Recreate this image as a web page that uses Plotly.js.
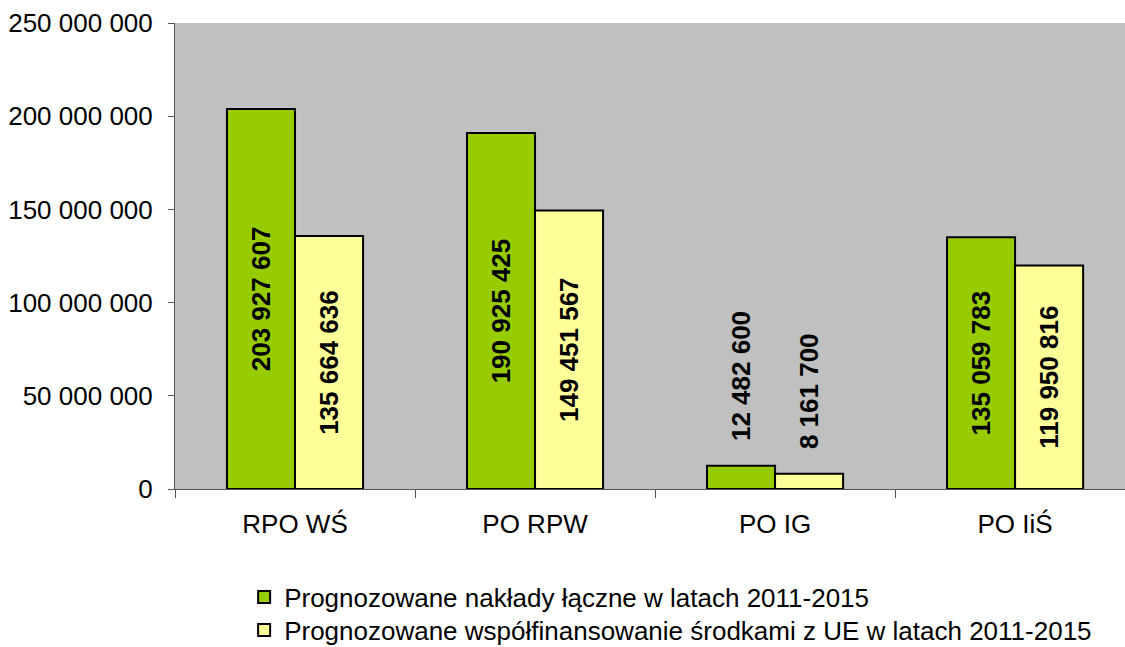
<!DOCTYPE html>
<html>
<head>
<meta charset="utf-8">
<script src="https://cdn.plot.ly/plotly-3.0.1.min.js"></script>
<style>html,body{margin:0;padding:0;background:#fff;}#chart{width:1125px;height:647px;}</style>
</head>
<body>
<div id="chart"></div>
<script>
const categories = ["RPO WŚ", "PO RPW", "PO IG", "PO IiŚ"];
const seriesNames = ["Prognozowane nakłady łączne w latach 2011-2015",
                     "Prognozowane współfinansowanie środkami z UE w latach 2011-2015"];
const totalValues = [203927607, 190925425, 12482600, 135059783];
const euValues = [135664636, 149451567, 8161700, 119950816];
const yTickValues = [0, 50000000, 100000000, 150000000, 200000000, 250000000];

function fmt(v) { return String(v).replace(/\B(?=(\d{3})+(?!\d))/g, " "); }
function positions(vals) { return vals.map(v => v < 50000000 ? "outside" : "inside"); }
function labels(vals) { return vals.map(v => (v < 50000000 ? "\u00a0\u00a0\u00a0" : "") + fmt(v)); }

const FONT = "Liberation Sans, Arial, sans-serif";

const common = {
  type: "bar",
  x: categories,
  textangle: -90,
  insidetextanchor: "middle",
  constraintext: "none",
  cliponaxis: false,
  textfont: {family: FONT, size: 26, color: "#000", weight: "bold"},
  hoverinfo: "none"
};

const traces = [
  Object.assign({}, common, {
    name: seriesNames[0], y: totalValues, legend: "legend",
    text: labels(totalValues), textposition: positions(totalValues),
    marker: {color: "#99CC00", line: {color: "#000", width: 2}}
  }),
  Object.assign({}, common, {
    name: seriesNames[1], y: euValues, legend: "legend2",
    text: labels(euValues), textposition: positions(euValues),
    marker: {color: "#FFFF99", line: {color: "#000", width: 2}}
  })
];

const legendBase = {
  orientation: "v", xref: "container", yref: "container",
  x: 0.217, xanchor: "left", yanchor: "middle",
  font: {family: FONT, size: 26, color: "#000"}, bgcolor: "rgba(0,0,0,0)",
  itemwidth: 30
};

const layout = {
  width: 1125, height: 647,
  margin: {l: 175, r: 0, t: 23, b: 158, autoexpand: false},
  paper_bgcolor: "#fff",
  plot_bgcolor: "#C0C0C0",
  barmode: "group",
  bargap: 0.433,
  bargroupgap: 0,
  font: {family: FONT, size: 26, color: "#000"},
  showlegend: true,
  legend: Object.assign({}, legendBase, {y: 0.0773}),
  legend2: Object.assign({}, legendBase, {y: 0.0263}),
  xaxis: {
    type: "category",
    range: [-0.5, 3.458],
    showgrid: false, zeroline: false,
    showline: true, linecolor: "#555", linewidth: 1,
    ticks: "outside", tickson: "boundaries", ticklen: 8, tickcolor: "#555",
    ticklabelstandoff: 12,
    tickfont: {family: FONT, size: 26, color: "#000"}
  },
  yaxis: {
    range: [0, 250000000],
    tickvals: yTickValues,
    ticktext: yTickValues.map(fmt),
    showgrid: false, zeroline: false,
    showline: true, linecolor: "#555", linewidth: 1,
    ticks: "outside", ticklen: 6, tickcolor: "#555",
    ticklabelstandoff: 10,
    tickfont: {family: FONT, size: 26, color: "#000"}
  }
};

Plotly.newPlot("chart", traces, layout, {staticPlot: true, displayModeBar: false});
</script>
</body>
</html>
